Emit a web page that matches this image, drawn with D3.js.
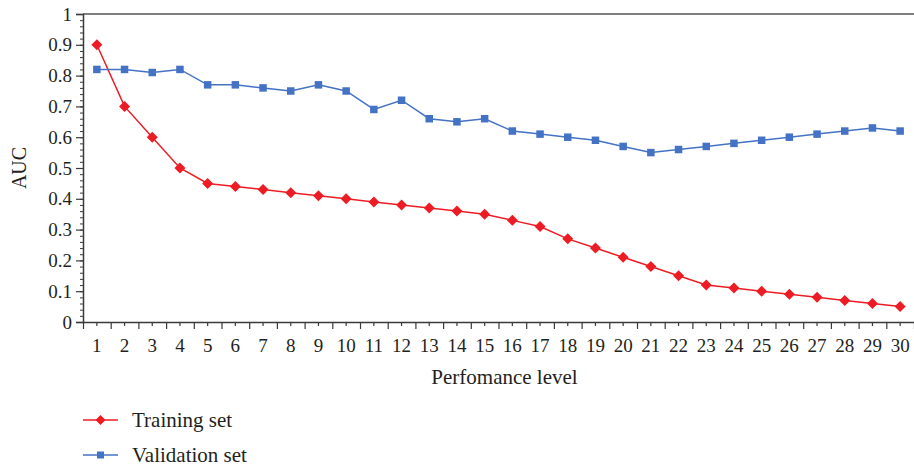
<!DOCTYPE html>
<html>
<head>
<meta charset="utf-8">
<script src="https://cdn.jsdelivr.net/npm/d3@7"></script>
<style>
  html, body { margin: 0; padding: 0; background: #fff; }
  svg { display: block; }
  text { font-family: "Liberation Serif", "Times New Roman", serif; fill: #231f20; }
</style>
</head>
<body>
<svg id="chart" width="914" height="468"></svg>
<script>
const categories = d3.range(1, 31).map(String);
const trainingSet = [0.90, 0.70, 0.60, 0.50, 0.45, 0.44, 0.43, 0.42, 0.41, 0.40,
                     0.39, 0.38, 0.37, 0.36, 0.35, 0.33, 0.31, 0.27, 0.24, 0.21,
                     0.18, 0.15, 0.12, 0.11, 0.10, 0.09, 0.08, 0.07, 0.06, 0.05];
const validationSet = [0.82, 0.82, 0.81, 0.82, 0.77, 0.77, 0.76, 0.75, 0.77, 0.75,
                       0.69, 0.72, 0.66, 0.65, 0.66, 0.62, 0.61, 0.60, 0.59, 0.57,
                       0.55, 0.56, 0.57, 0.58, 0.59, 0.60, 0.61, 0.62, 0.63, 0.62];
const yTicks = [0, 0.1, 0.2, 0.3, 0.4, 0.5, 0.6, 0.7, 0.8, 0.9, 1];
const yTickLabels = ["0", "0.1", "0.2", "0.3", "0.4", "0.5", "0.6", "0.7", "0.8", "0.9", "1"];
const seriesNames = ["Training set", "Validation set"];
const xTitle = "Perfomance level";
const yTitle = "AUC";

(function () {
const RED = "#ed1c24", BLUE = "#4472c4", AXIS = "#3a3a3a";
const mLeft = 83, mRight = 914, mTop = 14, mBottom = 322;

const svg = d3.select("#chart");
const x = d3.scaleBand().domain(categories).range([mLeft, mRight]).padding(0);
const xEdge = d3.scaleLinear().domain([0, categories.length]).range([mLeft, mRight]);
const y = d3.scaleLinear().domain([0, 1]).range([mBottom, mTop]);
const cx = c => x(c) + x.bandwidth() / 2;

// top frame line
svg.append("line").attr("x1", mLeft).attr("x2", mRight).attr("y1", y(1)).attr("y2", y(1))
  .attr("stroke", "#555").attr("stroke-width", 1.5);

// y axis minor ticks
const yMinor = d3.range(0, 51).map(i => i / 50);
svg.append("g").attr("transform", `translate(${mLeft},0)`)
  .call(d3.axisLeft(y).tickValues(yMinor).tickSize(3).tickFormat(""))
  .call(g => g.select(".domain").remove())
  .call(g => g.selectAll("line").attr("stroke", AXIS).attr("stroke-width", 1));

// y axis major
svg.append("g").attr("transform", `translate(${mLeft},0)`)
  .call(d3.axisLeft(y).tickValues(yTicks).tickSize(7).tickPadding(4)
    .tickFormat((d, i) => yTickLabels[i]))
  .call(g => g.select(".domain").attr("stroke", AXIS).attr("stroke-width", 1.5))
  .call(g => g.selectAll("line").attr("stroke", AXIS).attr("stroke-width", 1.2))
  .call(g => g.selectAll("text").attr("font-size", 19).style("font-family", "Liberation Serif").attr("fill", "#231f20"));

// x axis boundary ticks
svg.append("g").attr("transform", `translate(0,${mBottom})`)
  .call(d3.axisBottom(xEdge).tickValues(d3.range(0, categories.length + 1)).tickSize(7).tickFormat(""))
  .call(g => g.select(".domain").remove())
  .call(g => g.selectAll("line").attr("stroke", AXIS).attr("stroke-width", 1.2));

// x axis centered ticks + labels
svg.append("g").attr("transform", `translate(0,${mBottom})`)
  .call(d3.axisBottom(x).tickSize(4).tickPadding(13).tickSizeOuter(0))
  .call(g => g.select(".domain").attr("stroke", AXIS).attr("stroke-width", 1.5))
  .call(g => g.selectAll("line").attr("stroke", AXIS).attr("stroke-width", 1.2))
  .call(g => g.selectAll("text").attr("font-size", 19).style("font-family", "Liberation Serif").attr("fill", "#231f20"));

// axis titles
svg.append("text").attr("x", (mLeft + mRight) / 2 + 6).attr("y", 384)
  .attr("text-anchor", "middle").attr("font-size", 21).text(xTitle);
svg.append("text").attr("transform", `translate(26,168) rotate(-90)`)
  .attr("text-anchor", "middle").attr("font-size", 20).text(yTitle);

const line = d3.line().x((d, i) => cx(categories[i])).y(d => y(d));

const diamond = r => `M0,${-r}L${r},0L0,${r}L${-r},0Z`;
const square = s => `M${-s/2},${-s/2}h${s}v${s}h${-s}Z`;

// training
svg.append("path").datum(trainingSet).attr("d", line)
  .attr("fill", "none").attr("stroke", RED).attr("stroke-width", 1.5);
svg.append("g").selectAll("path").data(trainingSet).join("path")
  .attr("transform", (d, i) => `translate(${cx(categories[i])},${y(d)})`)
  .attr("d", diamond(5.5)).attr("fill", RED);

// validation
svg.append("path").datum(validationSet).attr("d", line)
  .attr("fill", "none").attr("stroke", BLUE).attr("stroke-width", 1.5);
svg.append("g").selectAll("path").data(validationSet).join("path")
  .attr("transform", (d, i) => `translate(${cx(categories[i])},${y(d)})`)
  .attr("d", square(7.5)).attr("fill", BLUE);

// legend
const legend = svg.append("g");
const legendItems = [
  { name: seriesNames[0], color: RED, shape: diamond(5), y: 420 },
  { name: seriesNames[1], color: BLUE, shape: square(7), y: 455 }
];
legendItems.forEach(it => {
  legend.append("line").attr("x1", 83).attr("x2", 118).attr("y1", it.y).attr("y2", it.y)
    .attr("stroke", it.color).attr("stroke-width", 1.5);
  legend.append("path").attr("transform", `translate(100.5,${it.y})`).attr("d", it.shape).attr("fill", it.color);
  legend.append("text").attr("x", 132).attr("y", it.y).attr("dy", "0.35em")
    .attr("font-size", 21).text(it.name);
});
})();
</script>
</body>
</html>
